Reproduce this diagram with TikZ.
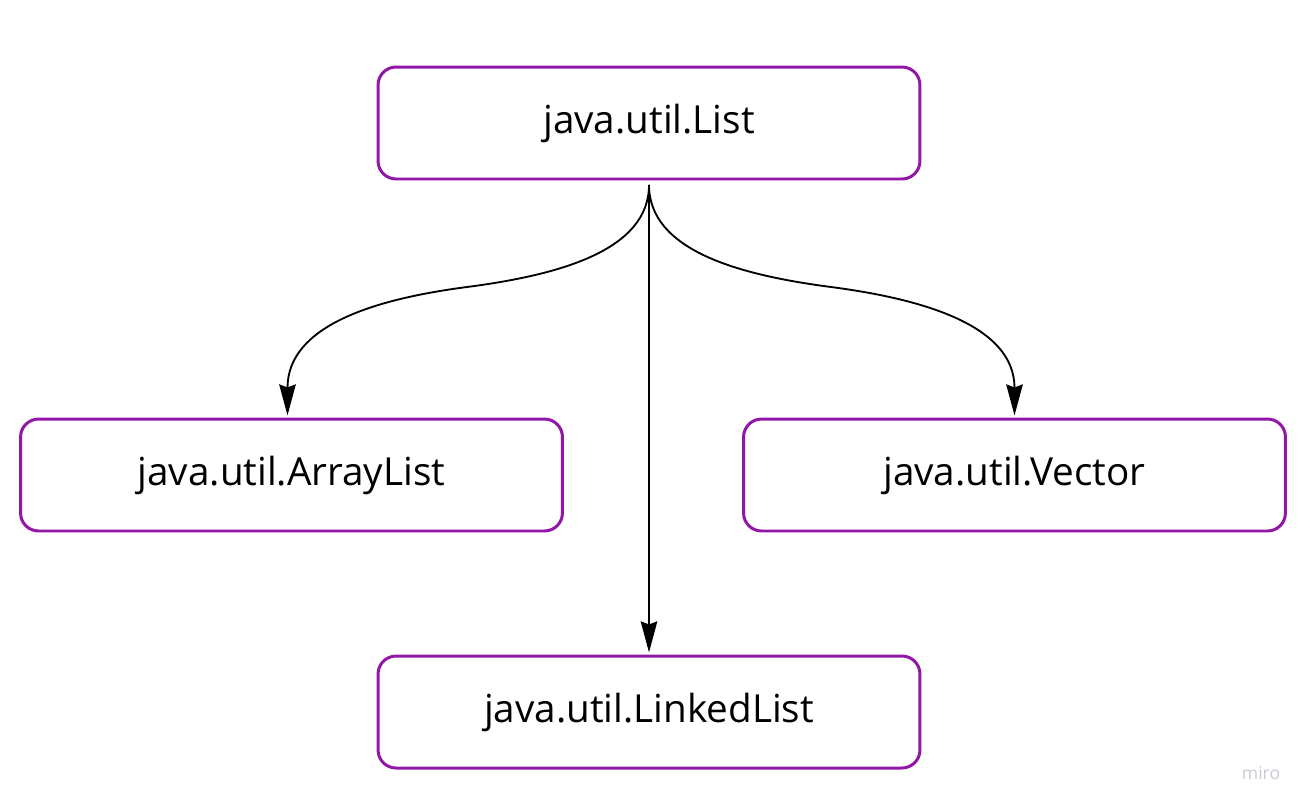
\documentclass[tikz,border=0pt]{standalone}
\usepackage{fontspec}
\setmainfont{Open Sans}
\usetikzlibrary{arrows.meta,calc,positioning}
\definecolor{classpurple}{RGB}{146,22,168}
\definecolor{markgray}{RGB}{200,202,212}
\tikzset{
  class box/.style={rectangle,rounded corners=0.36cm,draw=classpurple,
    fill=white,line width=1.7pt,minimum width=10.84cm,minimum height=2.24cm,
    inner sep=0pt,font=\fontsize{22}{26}\selectfont},
  impl edge/.style={-{Stealth[length=0.62cm,width=0.33cm,inset=0.06cm]},
    line width=1.05pt,shorten <=2.5pt,shorten >=1.2pt},
  mark label/.style={text=markgray,font=\fontsize{10}{12}\selectfont}
}
\begin{document}
\begin{tikzpicture}[x=0.02cm,y=-0.02cm]
    \useasboundingbox (0,0) rectangle (1310,809);
    \coordinate (posList) at (649,123);
    \coordinate (posArray) at (291.5,475);
    \coordinate (posVector) at (1014.5,475);
    \coordinate (posLinked) at (649,712);
    \coordinate (bendArray) at (467,287);
    \coordinate (bendVector) at (831,287);
    \node[class box] (list) at (posList) {java.util.List};
    \node[class box] (arraylist) at (posArray) {java.util.ArrayList};
    \node[class box] (vector) at (posVector) {java.util.Vector};
    \node[class box] (linkedlist) at (posLinked) {java.util.LinkedList};
    \draw[impl edge] (list.south) .. controls +(0,70) and +(92,-12) .. (bendArray)
      .. controls +(-92,12) and +(0,-92) .. ($(arraylist.north)+(-4,0)$);
    \draw[impl edge] (list.south) .. controls +(0,70) and +(-92,-12) .. (bendVector)
      .. controls +(92,12) and +(0,-92) .. (vector.north);
    \draw[impl edge] (list.south) -- (linkedlist.north);
    \node[mark label] (miro) at (1261,773) {miro};
  \end{tikzpicture}
\end{document}
